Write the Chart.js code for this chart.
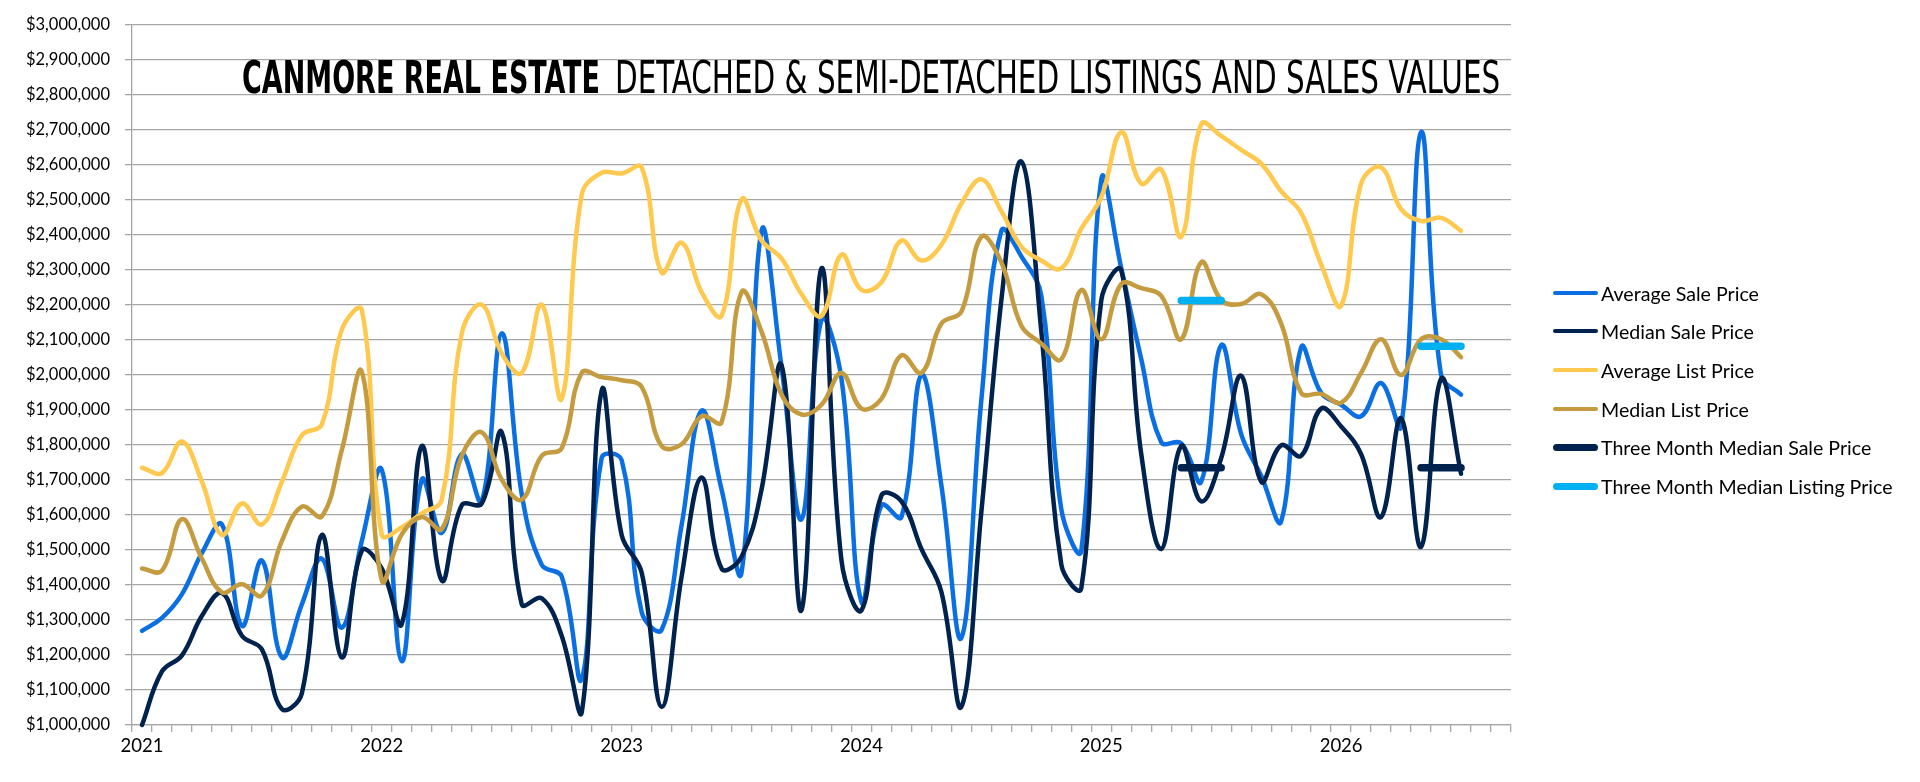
<!DOCTYPE html>
<html>
<head>
<meta charset="utf-8">
<script src="https://cdn.jsdelivr.net/npm/chart.js@4.4.1/dist/chart.umd.min.js"></script>
<style>
  html, body { margin: 0; padding: 0; background: #fff; }
  #wrap { position: relative; width: 1920px; height: 782px; overflow: hidden; }
  #title span {
    position: absolute; top: 56px; white-space: nowrap;
    font-family: "Liberation Sans Narrow", "DejaVu Sans Condensed", "DejaVu Sans", sans-serif;
    font-size: 44px; line-height: 44px; color: #000; transform-origin: 0 0;
  }
  #t1 { font-weight: bold; left: 242px; }
  #t2 { font-weight: normal; left: 615px; }
  #legend { position: absolute; left: 1553px; top: 0; }
  .item { position: absolute; left: 0; height: 24px; display: flex; align-items: center; white-space: nowrap;
    font-family: Lato, "Open Sans", sans-serif; font-size: 19.6px; color: #000; }
  .swatch { width: 45px; margin-right: 3px; border-radius: 4px; }
</style>
</head>
<body>
<div id="wrap">
  <canvas id="myChart"></canvas>
  <div id="title"><span id="t1">CANMORE REAL ESTATE</span><span id="t2">DETACHED &amp; SEMI-DETACHED LISTINGS AND SALES VALUES</span></div>
  <div id="legend"></div>
</div>
<script>
// months Jan 2021 .. Sep 2026 (last three months empty)
const years = ['2021', '2022', '2023', '2024', '2025', '2026'];
const monthNames = ['Jan','Feb','Mar','Apr','May','Jun','Jul','Aug','Sep','Oct','Nov','Dec'];
const monthCount = 69;

const avgSale = [
  1269000,1306000,1374000,1492000,1573000,1283000,1470000,1193000,1345000,1475000,1278000,1526000,
  1729000,1182000,1701000,1549000,1774000,1639000,2119000,1660000,1458000,1424000,1131000,1763000,
  1757000,1323000,1272000,1571000,1898000,1673000,1436000,2412000,2023000,1588000,2158000,1989000,
  1351000,1628000,1594000,2000000,1684000,1249000,1930000,2412000,2339000,2226000,1616000,1498000,
  2559000,2305000,2045000,1808000,1805000,1695000,2085000,1831000,1712000,1582000,2079000,1949000,
  1915000,1882000,1977000,1853000,2694000,2000000,1944000
];
const medSale = [
  1000000,1153000,1199000,1312000,1377000,1255000,1216000,1046000,1091000,1543000,1193000,1498000,
  1447000,1289000,1797000,1413000,1628000,1633000,1836000,1345000,1362000,1255000,1035000,1955000,
  1543000,1436000,1052000,1424000,1707000,1447000,1481000,1673000,2028000,1328000,2305000,1470000,
  1328000,1656000,1639000,1503000,1380000,1052000,1610000,2214000,2610000,2124000,1458000,1391000,
  2214000,2299000,1774000,1503000,1797000,1639000,1763000,1998000,1695000,1799000,1769000,1904000,
  1853000,1774000,1594000,1876000,1509000,1989000,1718000
];
const avgList = [
  1735000,1720000,1810000,1695000,1543000,1633000,1573000,1695000,1828000,1859000,2130000,2186000,
  1543000,1565000,1605000,1644000,2119000,2201000,2062000,2006000,2201000,1932000,2514000,2578000,
  2576000,2593000,2293000,2378000,2237000,2169000,2502000,2384000,2333000,2231000,2169000,2344000,
  2243000,2265000,2384000,2327000,2372000,2490000,2559000,2468000,2367000,2327000,2305000,2418000,
  2508000,2694000,2547000,2587000,2395000,2717000,2683000,2643000,2604000,2525000,2463000,2316000,
  2198000,2547000,2593000,2474000,2440000,2449000,2412000
];
const medList = [
  1447000,1441000,1588000,1475000,1379000,1402000,1370000,1526000,1624000,1596000,1786000,2009000,
  1413000,1545000,1594000,1560000,1769000,1836000,1701000,1644000,1769000,1791000,2006000,1994000,
  1985000,1966000,1797000,1802000,1882000,1865000,2237000,2124000,1944000,1887000,1915000,2006000,
  1904000,1932000,2056000,2006000,2147000,2181000,2395000,2322000,2141000,2090000,2045000,2243000,
  2102000,2260000,2248000,2226000,2102000,2322000,2214000,2203000,2231000,2147000,1949000,1946000,
  1921000,2006000,2102000,2000000,2102000,2102000,2051000
];
// three month medians: May-Jul 2025 and May-Jul 2026
const threeMonthSale = { 52: 1735000, 53: 1735000, 54: 1735000, 64: 1735000, 65: 1735000, 66: 1735000 };
const threeMonthList = { 52: 2213000, 53: 2213000, 54: 2213000, 64: 2082000, 65: 2082000, 66: 2082000 };

const seriesNames = ['Average Sale Price', 'Median Sale Price', 'Average List Price', 'Median List Price',
  'Three Month Median Sale Price', 'Three Month Median Listing Price'];
const seriesColors = ['#0a6fe3', '#00224f', '#ffc94f', '#c49b3e', '#00224f', '#00b0f0'];

const labels = [];
for (let i = 0; i < monthCount; i++) {
  labels.push(monthNames[i % 12] + ' ' + (2021 + Math.floor(i / 12)));
}
const sparse = (obj) => labels.map((l, i) => (obj[i] !== undefined ? obj[i] : null));

const seriesData = [avgSale, medSale, avgList, medList, sparse(threeMonthSale), sparse(threeMonthList)];

const datasets = seriesData.map((d, i) => ({
  label: seriesNames[i],
  data: d,
  borderColor: seriesColors[i],
  backgroundColor: seriesColors[i],
  borderWidth: i >= 4 ? 7.5 : 4.5,
  borderCapStyle: 'round',
  borderJoinStyle: 'round',
  pointRadius: 0,
  pointHoverRadius: 0,
  tension: i >= 4 ? 0 : 0.4,
  spanGaps: false,
  fill: false,
  clip: false,
  order: 6 - i
}));

const gridGray = '#a6a6a6';
const ctx = document.getElementById('myChart').getContext('2d');
const myChart = new Chart(ctx, {
  type: 'line',
  data: { labels: labels, datasets: datasets },
  options: {
    responsive: true,
    maintainAspectRatio: false,
    animation: false,
    layout: { padding: { left: 0, right: 409, top: 25, bottom: 0 } },
    plugins: { legend: { display: false }, tooltip: { enabled: false } },
    scales: {
      x: {
        type: 'category',
        offset: true,
        grid: { display: true, offset: true, drawOnChartArea: false, drawTicks: true, tickLength: 7, color: gridGray, lineWidth: 1.3 },
        border: { display: true, color: gridGray, width: 1.3 },
        ticks: {
          autoSkip: false, maxRotation: 0, minRotation: 0, padding: 3, color: '#000',
          font: { family: 'Lato', size: 18.5 },
          callback: function (v, i) { return i % 12 === 0 ? years[i / 12] : ''; }
        },
        afterFit: (scale) => { scale.height = 57; }
      },
      y: {
        min: 1000000,
        max: 3000000,
        grid: { color: gridGray, lineWidth: 1.3, tickLength: 7 },
        border: { display: true, color: gridGray, width: 1.3 },
        ticks: {
          stepSize: 100000, padding: 15, color: '#000',
          font: { family: 'Lato', size: 16.5 },
          callback: (v) => '$' + Number(v).toLocaleString('en-US')
        },
        afterFit: (scale) => { scale.width = 132; }
      }
    }
  }
});

// title: squeeze each part to the reference width
[['t1', 358], ['t2', 885]].forEach(([id, w]) => {
  const el = document.getElementById(id);
  el.style.transform = 'scaleX(' + (w / el.offsetWidth) + ')';
});

// legend
const legendRows = [293, 331, 370, 409, 447, 486];
const legend = document.getElementById('legend');
seriesNames.forEach((name, i) => {
  const row = document.createElement('div');
  row.className = 'item';
  row.style.top = (legendRows[i] - 12) + 'px';
  const sw = document.createElement('div');
  sw.className = 'swatch';
  sw.style.height = (i >= 4 ? 7 : 4.5) + 'px';
  sw.style.background = seriesColors[i];
  const tx = document.createElement('span');
  tx.textContent = name;
  row.appendChild(sw);
  row.appendChild(tx);
  legend.appendChild(row);
});
</script>
</body>
</html>
